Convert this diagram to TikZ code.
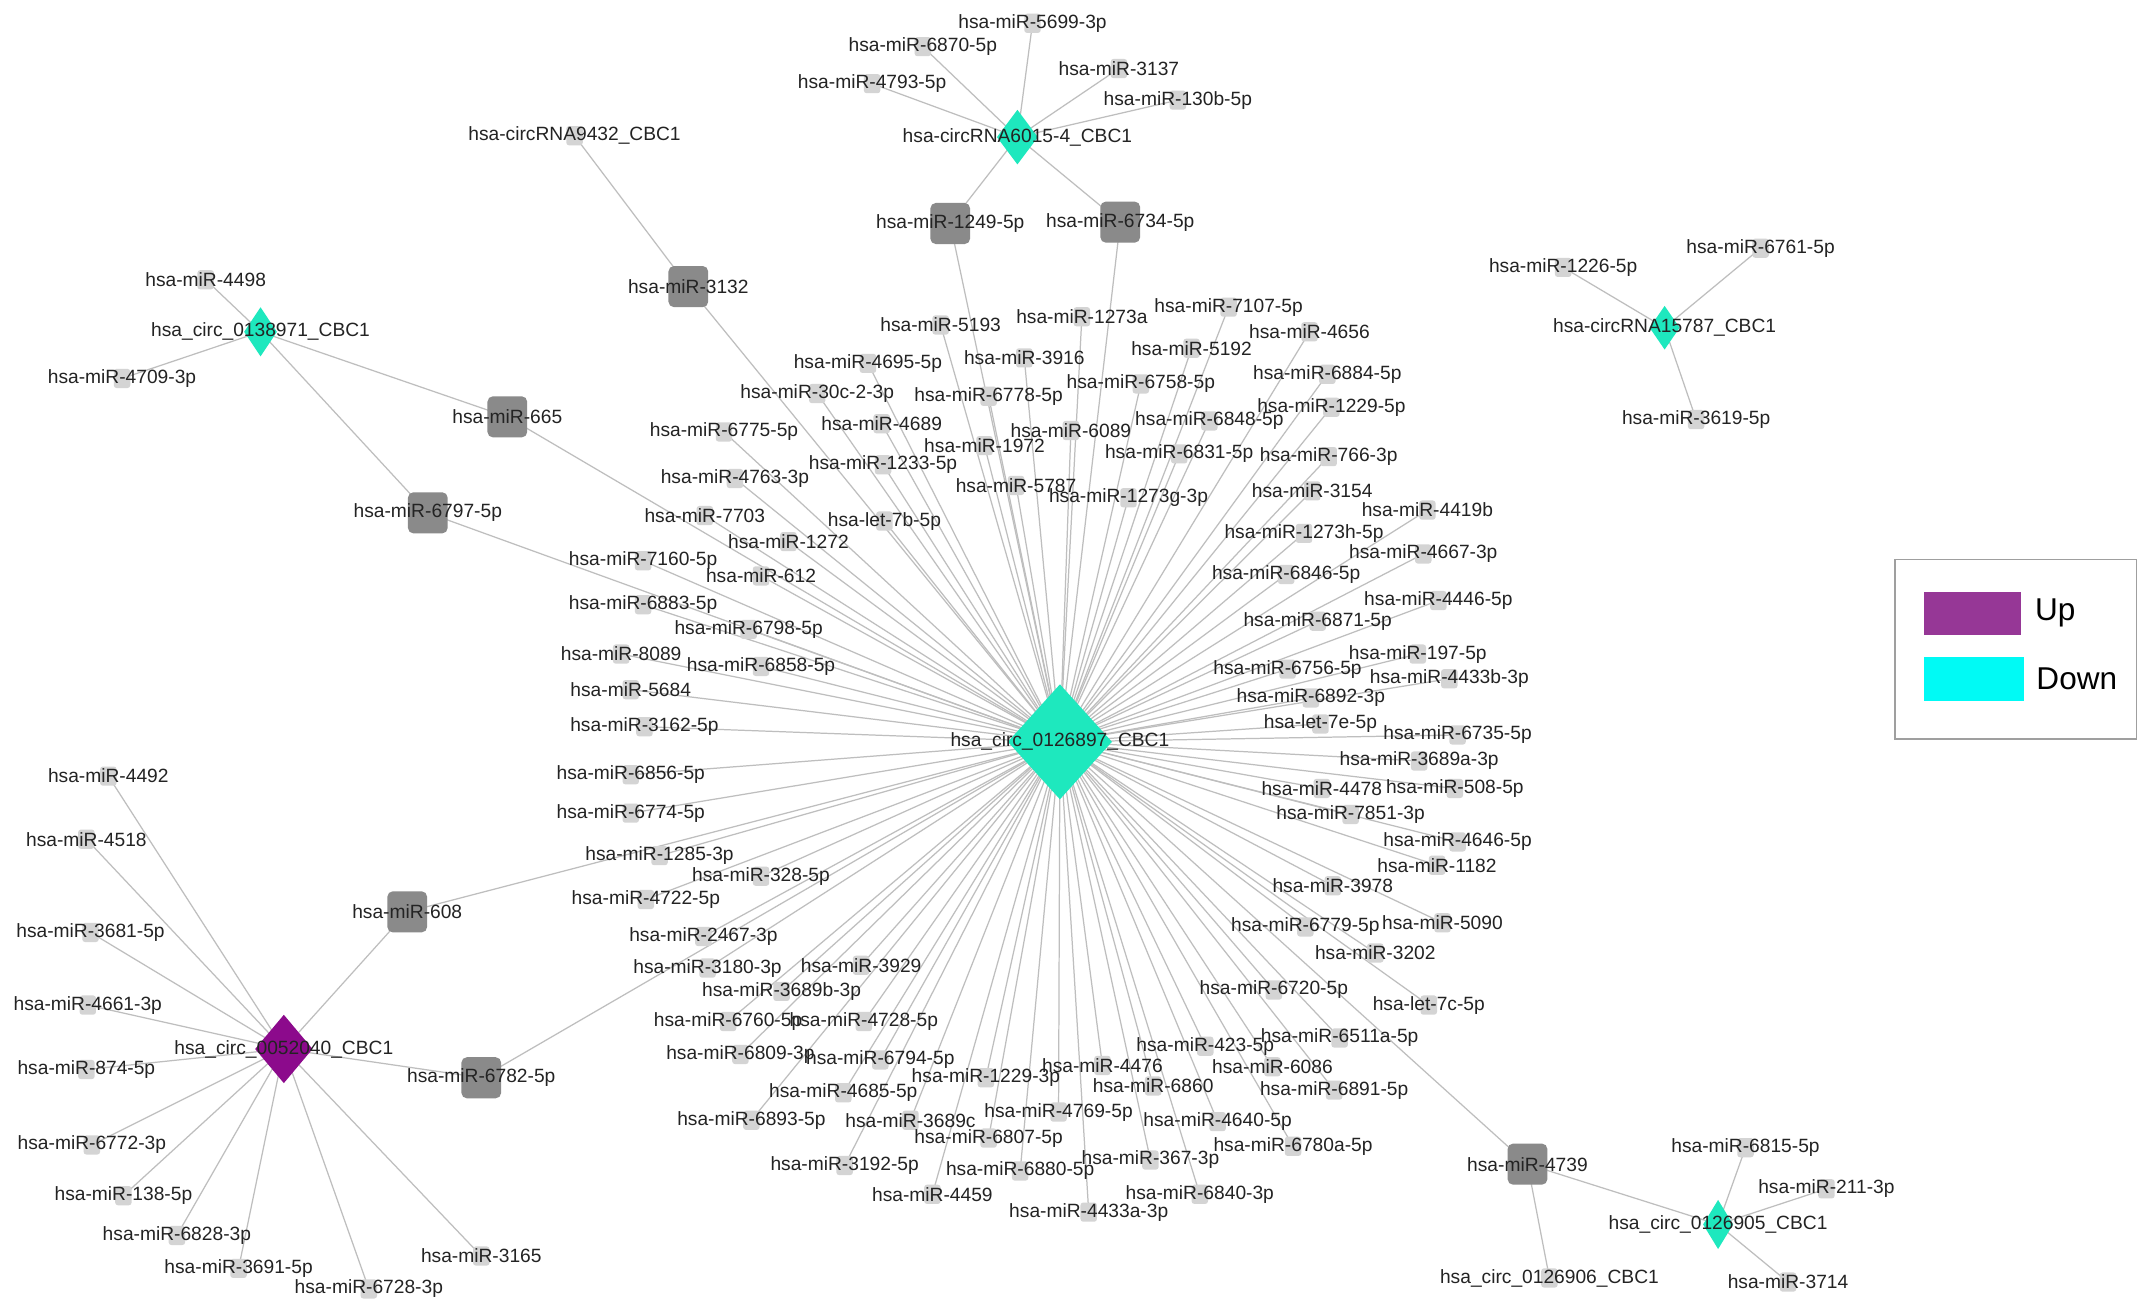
\documentclass[tikz,border=0pt]{standalone}
\usepackage{fontspec}
\setmainfont{Liberation Sans}
\usetikzlibrary{shapes.geometric}
\pgfdeclarelayer{bg}
\pgfdeclarelayer{paper}
\pgfsetlayers{paper,bg,main}
\definecolor{hubcyan}{RGB}{30,232,190}
\definecolor{uppurple}{RGB}{140,10,140}
\definecolor{legpurple}{RGB}{150,55,150}
\definecolor{legcyan}{RGB}{0,250,245}
\definecolor{darksq}{RGB}{138,138,138}
\definecolor{lightsq}{RGB}{212,212,212}
\definecolor{edgecol}{RGB}{190,190,190}
\definecolor{txt}{RGB}{35,35,35}
\begin{document}
\begin{tikzpicture}[x=1pt,y=-1pt,
  edge/.style={draw=edgecol,line width=0.9pt},
  lbl/.style={font=\fontsize{14}{16}\selectfont,text=txt,inner sep=0pt},
  mir/.style={rectangle,rounded corners=2pt,fill=lightsq,minimum width=12pt,minimum height=14pt,inner sep=0pt},
  hubmir/.style={rectangle,rounded corners=4pt,fill=darksq,minimum width=29pt,minimum height=30pt,inner sep=0pt},
  circdown/.style={diamond,fill=hubcyan,inner sep=0pt},
  circup/.style={diamond,fill=uppurple,inner sep=0pt},
  legsw/.style={rectangle,inner sep=0pt},
  legtxt/.style={font=\fontsize{23}{26}\selectfont,text=black,inner sep=0pt,anchor=west}]
\begin{pgfonlayer}{paper}
\fill[white] (0,0) rectangle (1568,959);
\end{pgfonlayer}
\useasboundingbox (0,0) rectangle (1568,959);

% ---------- central hub ----------
\node[circdown,minimum width=76pt,minimum height=84pt,label={[lbl]center:hsa\_circ\_0126897\_CBC1}] (hub) at (773,541) {};

% ---------- dark (shared) miRNA nodes ----------
\node[hubmir,label={[lbl]center:hsa-miR-1249-5p}] (hb1249) at (693,163) {};
\node[hubmir,label={[lbl]center:hsa-miR-6734-5p}] (hb6734) at (817,162) {};
\node[hubmir,label={[lbl]center:hsa-miR-3132}] (hb3132) at (502,209) {};
\node[hubmir,label={[lbl]center:hsa-miR-665}] (hb665) at (370,304) {};
\node[hubmir,label={[lbl]center:hsa-miR-6797-5p}] (hb6797) at (312,374) {};
\node[hubmir,label={[lbl]center:hsa-miR-608}] (hb608) at (297,665) {};
\node[hubmir,label={[lbl]center:hsa-miR-6782-5p}] (hb6782) at (351,786) {};
\node[hubmir,label={[lbl]center:hsa-miR-4739}] (hb4739) at (1114,849) {};

% ---------- other circRNAs ----------
\node[circdown,minimum width=30pt,minimum height=40pt,label={[lbl]center:hsa-circRNA6015-4\_CBC1}] (c6015) at (742,100) {};
\node[circdown,minimum width=24pt,minimum height=36pt,label={[lbl]center:hsa\_circ\_0138971\_CBC1}] (c0138971) at (190,242) {};
\node[circdown,minimum width=22pt,minimum height=32pt,label={[lbl]center:hsa-circRNA15787\_CBC1}] (c15787) at (1214,239) {};
\node[circup,minimum width=42pt,minimum height=50pt,label={[lbl]center:hsa\_circ\_0052040\_CBC1}] (c0052040) at (207,765) {};
\node[circdown,minimum width=22pt,minimum height=36pt,label={[lbl]center:hsa\_circ\_0126905\_CBC1}] (c0126905) at (1253,893) {};
\node[mir,label={[lbl]center:hsa-circRNA9432\_CBC1}] (c9432) at (419,99) {};
\node[mir,label={[lbl]center:hsa\_circ\_0126906\_CBC1}] (c0126906) at (1130,932) {};

% ---------- edges between structural nodes ----------
\begin{pgfonlayer}{bg}
\foreach \n in {hb1249,hb6734,hb3132,hb665,hb6797,hb608,hb6782,hb4739}
  \draw[edge] (hub.center) -- (\n.center);
\draw[edge] (c6015.center) -- (hb1249.center);
\draw[edge] (c6015.center) -- (hb6734.center);
\draw[edge] (c9432.center) -- (hb3132.center);
\draw[edge] (c0138971.center) -- (hb665.center);
\draw[edge] (c0138971.center) -- (hb6797.center);
\draw[edge] (c0052040.center) -- (hb608.center);
\draw[edge] (c0052040.center) -- (hb6782.center);
\draw[edge] (hb4739.center) -- (c0126906.center);
\draw[edge] (hb4739.center) -- (c0126905.center);
\end{pgfonlayer}

% ---------- satellites of the hub ----------
\foreach \x/\y/\t [count=\i] in {
686/237/hsa-miR-5193, 789/231/hsa-miR-1273a, 896/224/hsa-miR-7107-5p, 869/254/hsa-miR-5192,
955/242/hsa-miR-4656, 633/265/hsa-miR-4695-5p, 747/261/hsa-miR-3916, 596/287/hsa-miR-30c-2-3p,
721/289/hsa-miR-6778-5p, 832/280/hsa-miR-6758-5p, 968/273/hsa-miR-6884-5p, 643/309/hsa-miR-4689,
528/315/hsa-miR-6775-5p, 781/314/hsa-miR-6089, 882/307/hsa-miR-6848-5p, 971/297/hsa-miR-1229-5p,
718/325/hsa-miR-1972, 644/339/hsa-miR-1233-5p, 860/331/hsa-miR-6831-5p, 969/333/hsa-miR-766-3p,
536/349/hsa-miR-4763-3p, 741/354/hsa-miR-5787, 823/363/hsa-miR-1273g-3p, 957/358/hsa-miR-3154,
514/376/hsa-miR-7703, 645/380/hsa-let-7b-5p, 1041/372/hsa-miR-4419b, 951/389/hsa-miR-1273h-5p,
575/395/hsa-miR-1272, 1038/404/hsa-miR-4667-3p, 469/409/hsa-miR-7160-5p, 555/420/hsa-miR-612,
938/419/hsa-miR-6846-5p, 1049/438/hsa-miR-4446-5p, 469/441/hsa-miR-6883-5p, 961/453/hsa-miR-6871-5p,
546/459/hsa-miR-6798-5p, 453/477/hsa-miR-8089, 1034/477/hsa-miR-197-5p, 555/486/hsa-miR-6858-5p,
939/488/hsa-miR-6756-5p, 1057/495/hsa-miR-4433b-3p, 460/503/hsa-miR-5684, 956/509/hsa-miR-6892-3p,
963/528/hsa-let-7e-5p, 470/530/hsa-miR-3162-5p, 1063/536/hsa-miR-6735-5p, 1035/555/hsa-miR-3689a-3p,
460/565/hsa-miR-6856-5p, 964/575/hsa-miR-4478, 1061/575/hsa-miR-508-5p, 985/594/hsa-miR-7851-3p,
460/593/hsa-miR-6774-5p, 1063/614/hsa-miR-4646-5p, 481/624/hsa-miR-1285-3p, 1048/631/hsa-miR-1182,
555/639/hsa-miR-328-5p, 972/646/hsa-miR-3978, 471/656/hsa-miR-4722-5p, 952/676/hsa-miR-6779-5p,
1052/673/hsa-miR-5090, 513/683/hsa-miR-2467-3p, 1003/695/hsa-miR-3202, 628/704/hsa-miR-3929,
516/706/hsa-miR-3180-3p, 570/723/hsa-miR-3689b-3p, 929/722/hsa-miR-6720-5p, 1042/733/hsa-let-7c-5p,
531/745/hsa-miR-6760-5p, 630/745/hsa-miR-4728-5p, 879/763/hsa-miR-423-5p, 977/757/hsa-miR-6511a-5p,
540/769/hsa-miR-6809-3p, 642/773/hsa-miR-6794-5p, 804/777/hsa-miR-4476, 928/778/hsa-miR-6086,
719/786/hsa-miR-1229-3p, 841/792/hsa-miR-6860, 973/795/hsa-miR-6891-5p, 615/797/hsa-miR-4685-5p,
772/811/hsa-miR-4769-5p, 548/817/hsa-miR-6893-5p, 664/817/hsa-miR-3689c, 888/818/hsa-miR-4640-5p,
721/830/hsa-miR-6807-5p, 943/836/hsa-miR-6780a-5p, 839/846/hsa-miR-367-3p, 616/850/hsa-miR-3192-5p,
744/854/hsa-miR-6880-5p, 875/871/hsa-miR-6840-3p, 680/871/hsa-miR-4459, 794/884/hsa-miR-4433a-3p}
{
  \node[mir,label={[lbl]center:\t}] (hs\i) at (\x,\y) {};
  \begin{pgfonlayer}{bg}\draw[edge] (hub.center) -- (hs\i.center);\end{pgfonlayer}
}

% ---------- satellites of hsa-circRNA6015-4 ----------
\foreach \x/\y/\t [count=\i] in {
753/17/hsa-miR-5699-3p, 673/34/hsa-miR-6870-5p, 816/50/hsa-miR-3137,
636/61/hsa-miR-4793-5p, 859/73/hsa-miR-130b-5p}
{
  \node[mir,label={[lbl]center:\t}] (ta\i) at (\x,\y) {};
  \begin{pgfonlayer}{bg}\draw[edge] (c6015.center) -- (ta\i.center);\end{pgfonlayer}
}

% ---------- satellites of hsa_circ_0138971 ----------
\foreach \x/\y/\t [count=\i] in {150/204/hsa-miR-4498, 89/276/hsa-miR-4709-3p}
{
  \node[mir,label={[lbl]center:\t}] (tb\i) at (\x,\y) {};
  \begin{pgfonlayer}{bg}\draw[edge] (c0138971.center) -- (tb\i.center);\end{pgfonlayer}
}

% ---------- satellites of hsa-circRNA15787 ----------
\foreach \x/\y/\t [count=\i] in {1140/195/hsa-miR-1226-5p, 1284/181/hsa-miR-6761-5p, 1237/306/hsa-miR-3619-5p}
{
  \node[mir,label={[lbl]center:\t}] (tc\i) at (\x,\y) {};
  \begin{pgfonlayer}{bg}\draw[edge] (c15787.center) -- (tc\i.center);\end{pgfonlayer}
}

% ---------- satellites of hsa_circ_0052040 ----------
\foreach \x/\y/\t [count=\i] in {
79/566/hsa-miR-4492, 63/612/hsa-miR-4518, 66/680/hsa-miR-3681-5p, 64/733/hsa-miR-4661-3p,
63/780/hsa-miR-874-5p, 67/835/hsa-miR-6772-3p, 90/872/hsa-miR-138-5p, 129/901/hsa-miR-6828-3p,
174/925/hsa-miR-3691-5p, 269/940/hsa-miR-6728-3p, 351/916/hsa-miR-3165}
{
  \node[mir,label={[lbl]center:\t}] (td\i) at (\x,\y) {};
  \begin{pgfonlayer}{bg}\draw[edge] (c0052040.center) -- (td\i.center);\end{pgfonlayer}
}

% ---------- satellites of hsa_circ_0126905 ----------
\foreach \x/\y/\t [count=\i] in {1273/837/hsa-miR-6815-5p, 1332/867/hsa-miR-211-3p, 1304/935/hsa-miR-3714}
{
  \node[mir,label={[lbl]center:\t}] (te\i) at (\x,\y) {};
  \begin{pgfonlayer}{bg}\draw[edge] (c0126905.center) -- (te\i.center);\end{pgfonlayer}
}

% ---------- legend ----------
\node[rectangle,draw=gray!75,line width=0.9pt,minimum width=176pt,minimum height=131pt,inner sep=0pt] (legend) at (1470,473.5) {};
\node[legsw,fill=legpurple,minimum width=71pt,minimum height=31pt] (swup) at (1438.5,447.5) {};
\node[legsw,fill=legcyan,minimum width=73pt,minimum height=32pt] (swdown) at (1439.5,495) {};
\node[legtxt] (tup) at (1484,447) {Up};
\node[legtxt] (tdown) at (1485,495) {Down};
\end{tikzpicture}
\end{document}
